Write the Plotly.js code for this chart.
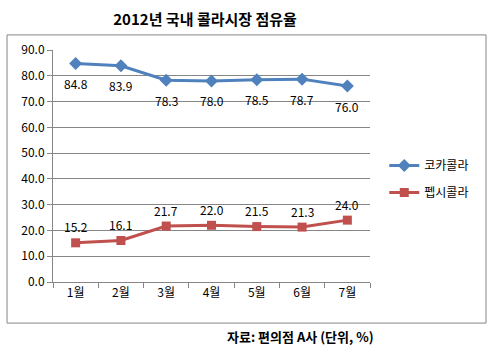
<!DOCTYPE html>
<html>
<head>
<meta charset="utf-8">
<script src="https://cdn.plot.ly/plotly-3.0.1.min.js"></script>
<style>html,body{margin:0;padding:0;background:#fff;}#chart{width:493px;height:354px;}</style>
</head>
<body>
<div id="chart"></div>
<script>
const months = ["1월","2월","3월","4월","5월","6월","7월"];
const cocaCola = [84.8, 83.9, 78.3, 78.0, 78.5, 78.7, 76.0];
const pepsi = [15.2, 16.1, 21.7, 22.0, 21.5, 21.3, 24.0];
const seriesNames = ["코카콜라", "펩시콜라"];
const yTicks = [0,10,20,30,40,50,60,70,80,90];

const FONT = "'Noto Sans CJK KR', 'Noto Sans', sans-serif";

const traces = [
  {
    x: months, y: cocaCola, name: seriesNames[0], legendgroup: "a", type: "scatter", mode: "lines+markers",
    line: {color: "#4F81BD", width: 3},
    marker: {symbol: "diamond", size: 10, color: "#4F81BD"},
    cliponaxis: false
  },
  {
    x: months, y: pepsi, name: seriesNames[1], legendgroup: "b", type: "scatter", mode: "lines+markers",
    line: {color: "#C0504D", width: 3},
    marker: {symbol: "square", size: 9, color: "#C0504D"},
    cliponaxis: false
  }
];

const labelFont = {family: FONT, size: 12, color: "#000"};
const labels = [];
months.forEach((m, i) => {
  labels.push({x: m, y: cocaCola[i], xref: "x", yref: "y", text: cocaCola[i].toFixed(1),
               showarrow: false, yshift: -20, font: labelFont});
  labels.push({x: m, y: pepsi[i], xref: "x", yref: "y", text: pepsi[i].toFixed(1),
               showarrow: false, yshift: 16, font: labelFont});
});

const layout = {
  width: 493, height: 354,
  margin: {l: 53, r: 123, t: 50, b: 72},
  paper_bgcolor: "#fff", plot_bgcolor: "#fff",
  font: {family: FONT, size: 12, color: "#000"},
  title: {text: "<b>2012년 국내 콜라시장 점유율</b>", x: 0.416, xanchor: "center", xref: "container",
          y: 0.945, yanchor: "middle", yref: "container", font: {family: FONT, size: 15, color: "#000"}},
  xaxis: {
    type: "category", range: [-0.5, 6.5], showgrid: false,
    showline: true, linecolor: "#868686", linewidth: 1,
    ticks: "outside", ticklen: 5, tickcolor: "#868686", tickson: "boundaries",
    tickfont: {family: FONT, size: 12, color: "#000"}, zeroline: false, fixedrange: true
  },
  yaxis: {
    range: [0, 90], tickvals: yTicks, ticktext: yTicks.map(v => v.toFixed(1)),
    showgrid: true, gridcolor: "#868686", gridwidth: 1,
    showline: true, linecolor: "#868686", linewidth: 1,
    ticks: "outside", ticklen: 5, tickcolor: "#868686",
    tickfont: {family: FONT, size: 12, color: "#000"}, zeroline: false, fixedrange: true
  },
  showlegend: true,
  legend: {x: 1.045, xanchor: "left", y: 0.444, yanchor: "middle", bgcolor: "rgba(0,0,0,0)",
           font: {family: FONT, size: 12, color: "#000"}, tracegroupgap: 8, itemwidth: 30,
           traceorder: "grouped"},
  shapes: [
    {type: "rect", xref: "paper", yref: "paper", x0: -0.145, x1: 1.366, y0: -0.177, y1: 1.065,
     line: {color: "#868686", width: 1}, fillcolor: "rgba(0,0,0,0)", layer: "below"}
  ],
  annotations: labels.concat([
    {text: "<b>자료: 편의점 A사 (단위, %)</b>", xref: "paper", yref: "paper", x: 1.018, y: -0.235,
     xanchor: "right", yanchor: "middle", showarrow: false, font: {family: FONT, size: 13, color: "#000"}}
  ])
};

Plotly.newPlot("chart", traces, layout, {displayModeBar: false, staticPlot: true});
</script>
</body>
</html>
